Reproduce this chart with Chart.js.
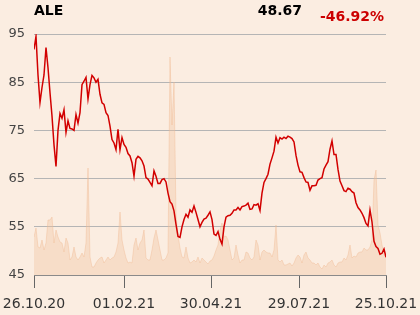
<!DOCTYPE html>
<html>
<head>
<meta charset="utf-8">
<script src="https://cdn.jsdelivr.net/npm/chart.js@4"></script>
<style>
html,body{margin:0;padding:0;background:#fbede1;}
#wrap{width:420px;height:315px;position:relative;}
</style>
</head>
<body>
<div id="wrap"><canvas id="c" width="420" height="315"></canvas></div>
<script>
// ---- data ----
const ticker = "ALE";
const lastPrice = "48.67";
const changePct = "-46.92%";

const tickIndex = [0, 45, 88.5, 132.5, 176];
const tickLabels = ["26.10.20", "01.02.21", "30.04.21", "29.07.21", "25.10.21"];
const yTicks = [45, 55, 65, 75, 85, 95];

const price = [
  91.8, 94.5, 86.5, 80.8, 83.9, 86.5, 92.2, 88, 82.8, 78,
  72, 67.5, 75, 78.5, 77.5, 79.3, 74.6, 77, 75.4, 75.3,
  75, 78.3, 76.5, 78.7, 84.5, 85.2, 86, 81.5, 84.5, 86.4,
  85.9, 85, 85.6, 82.5, 80.7, 80.4, 78.7, 78.1, 75.9, 73.1,
  72.4, 71, 75.2, 71, 73.5, 72.1, 71.5, 70.2, 69.7, 68.3,
  65.5, 69, 69.6, 69.3, 68.7, 67.6, 65.2, 64.9, 64.2, 63.5,
  66.6, 65.5, 64, 64, 64.8, 65, 64.3, 62, 60.2, 59.7,
  58.3, 55.5, 53, 52.8, 55, 56.5, 57.6, 57, 58.5, 58,
  59.3, 58, 56.5, 55, 55.9, 56.6, 56.8, 57.4, 58.1, 56.5,
  53.5, 53.2, 54, 52.4, 51.4, 55, 57, 57.3, 57.4, 57.8,
  58.5, 58.5, 59, 58.5, 59.2, 59.3, 59.5, 59.9, 58.6, 58.7,
  59.6, 59.5, 59.8, 58.4, 62, 64.2, 65, 65.9, 68, 69.3,
  70.7, 73.6, 72.4, 73.5, 73.2, 73.6, 73.3, 73.8, 73.6, 73.3,
  72.6, 69.8, 67.8, 66.4, 66.3, 65.2, 64.3, 64.2, 62.6, 63.5,
  63.5, 63.6, 64.7, 65, 65.2, 67, 67.8, 68.5, 71.1, 72.8,
  70, 70, 66.9, 64.5, 63.5, 62.5, 62.3, 63, 62.8, 62.3,
  62, 60, 59, 58.5, 57.8, 56.9, 55.7, 55.2, 58.5, 56,
  52, 50.9, 50.5, 49.3, 49.5, 50.4, 48.67
];

const volume = [
  38, 47, 28, 27, 35, 25, 32, 55, 55, 58,
  32, 45, 38, 33, 32, 23, 37, 32, 15, 18,
  28, 18, 15, 18, 22, 18, 32, 107, 18, 8,
  8, 12, 15, 17, 18, 12, 15, 18, 15, 17,
  18, 23, 32, 63, 35, 25, 17, 12, 13, 12,
  30, 37, 25, 32, 35, 45, 17, 15, 15, 25,
  37, 45, 35, 25, 15, 15, 17, 22, 218, 150,
  193, 60, 40, 27, 18, 17, 28, 17, 12, 13,
  15, 13, 18, 12, 17, 15, 13, 11, 14, 15,
  19, 25, 30, 45, 52, 38, 39, 35, 25, 15,
  17, 30, 20, 12, 15, 15, 23, 22, 17, 15,
  18, 35, 30, 15, 23, 25, 23, 22, 22, 18,
  25, 50, 15, 13, 15, 10, 10, 11, 12, 9,
  12, 17, 20, 18, 12, 20, 23, 17, 15, 12,
  12, 10, 12, 8, 6, 10, 8, 12, 13, 15,
  10, 8, 12, 13, 13, 17, 15, 20, 30, 17,
  19, 18, 22, 23, 23, 27, 25, 25, 28, 35,
  95, 105, 50, 42, 30, 20, 18
];

// ---- chart ----
const FONT = "'DejaVu Sans', sans-serif";
const bgPlugin = {
  id: 'bg',
  beforeDraw(chart) {
    const ctx = chart.ctx;
    ctx.save();
    ctx.fillStyle = '#fbede1';
    ctx.fillRect(0, 0, chart.width, chart.height);
    ctx.restore();
  }
};
const headerPlugin = {
  id: 'header',
  afterDraw(chart) {
    const ctx = chart.ctx;
    ctx.save();
    ctx.textBaseline = 'alphabetic';
    ctx.font = "bold 14px " + FONT;
    ctx.fillStyle = '#000';
    ctx.textAlign = 'left';
    ctx.fillText(ticker, chart.chartArea.left, 15);
    ctx.textAlign = 'right';
    ctx.fillText(lastPrice, 302, 15);
    ctx.fillStyle = '#cc0000';
    ctx.textAlign = 'left';
    ctx.fillText(changePct, 320, 21);
    ctx.restore();
  }
};

new Chart(document.getElementById('c'), {
  type: 'line',
  data: {
    datasets: [
      {
        label: ticker,
        data: price.map((v, i) => ({x: i, y: v})),
        borderColor: '#d20000',
        borderWidth: 1.5,
        pointRadius: 0,
        tension: 0,
        fill: false,
        yAxisID: 'y',
        order: 0
      },
      {
        label: 'Volume',
        data: volume.map((v, i) => ({x: i, y: v})),
        borderColor: 'rgba(240,185,145,0.4)',
        borderWidth: 1,
        backgroundColor: 'rgba(242,192,155,0.35)',
        pointRadius: 0,
        tension: 0,
        fill: 'origin',
        yAxisID: 'yv',
        order: 1
      }
    ]
  },
  options: {
    responsive: false,
    animation: false,
    devicePixelRatio: 1,
    layout: {padding: {left: 0, right: 34, top: 34, bottom: 0}},
    plugins: {legend: {display: false}, tooltip: {enabled: false}, title: {display: false}},
    scales: {
      x: {
        type: 'linear',
        min: 0,
        max: price.length - 1,
        afterBuildTicks(scale) { scale.ticks = tickIndex.map(v => ({value: v})); },
        afterFit(scale) { scale.height = 40; scale.paddingLeft = 0; scale.paddingRight = 0; },
        ticks: {
          autoSkip: false,
          maxRotation: 0,
          padding: 8,
          color: '#333',
          font: {family: FONT, size: 14},
          callback: (v, i) => tickLabels[i]
        },
        grid: {
          drawOnChartArea: false,
          drawTicks: true,
          tickLength: 13,
          color: '#666',
          lineWidth: 1
        },
        border: {display: true, color: '#8a8a8a', width: 1}
      },
      y: {
        type: 'linear',
        position: 'left',
        min: 45,
        max: 95,
        afterBuildTicks(scale) { scale.ticks = yTicks.map(v => ({value: v})); },
        afterFit(scale) { scale.width = 34; scale.paddingTop = 0; scale.paddingBottom = 0; },
        ticks: {
          padding: 9,
          color: '#444',
          font: {family: FONT, size: 13}
        },
        grid: {color: '#b5b5b5', lineWidth: 1, drawTicks: false},
        border: {display: false}
      },
      yv: {
        type: 'linear',
        display: false,
        min: 0,
        max: 241
      }
    }
  },
  plugins: [bgPlugin, headerPlugin]
});
</script>
</body>
</html>
